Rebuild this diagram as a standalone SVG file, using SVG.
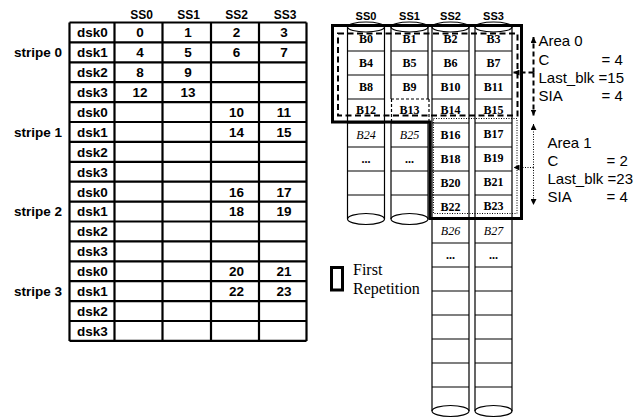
<svg xmlns="http://www.w3.org/2000/svg" width="639" height="419" viewBox="0 0 639 419">
<style>
.bg{fill:#fff}
.tl{stroke:#000;stroke-width:2.2;fill:none}
.th{font-family:"Liberation Sans",Arial,sans-serif;font-weight:bold;font-size:12px;text-anchor:middle;fill:#000}
.tc{font-family:"Liberation Sans",Arial,sans-serif;font-weight:bold;font-size:13.5px;fill:#000}
.num{text-anchor:middle}
.st{text-anchor:end}
.cyl{stroke:#000;stroke-width:1.2;fill:none}
.bl{font-family:"Liberation Serif","Times New Roman",serif;font-weight:bold;font-size:12px;text-anchor:middle;fill:#000}
.it{font-weight:normal;font-style:italic}
.rl{font-family:"Liberation Sans",Arial,sans-serif;font-size:15px;fill:#000}
.lg{font-family:"Liberation Serif","Times New Roman",serif;font-size:16px;fill:#000}
.thick{stroke:#000;stroke-width:3;fill:none}
.dash{stroke:#000;stroke-width:2;fill:none;stroke-dasharray:6 3.5}
.dot{stroke:#000;stroke-width:1;fill:none;stroke-dasharray:1 1.5}
</style>
<defs>
<marker id="ah" viewBox="0 0 10 10" refX="10" refY="5" markerWidth="6" markerHeight="6" markerUnits="userSpaceOnUse" orient="auto"><path d="M0,0 L10,5 L0,10 z" fill="#000"/></marker>
</defs>
<rect class="bg" x="0" y="0" width="639" height="419"/>

<g id="table">
<path class="tl" d="M69.5,22.5V340.9M114.5,22.5V340.9M162.5,22.5V340.9M211,22.5V340.9M259,22.5V340.9M306.5,22.5V340.9
M69.5,22.5H306.5M69.5,42.4H306.5M69.5,62.3H306.5M69.5,82.2H306.5M69.5,102.1H306.5M69.5,122H306.5M69.5,141.9H306.5M69.5,161.8H306.5M69.5,181.7H306.5M69.5,201.6H306.5M69.5,221.5H306.5M69.5,241.4H306.5M69.5,261.3H306.5M69.5,281.2H306.5M69.5,301.1H306.5M69.5,321H306.5M69.5,340.9H306.5"/>
<text class="th" x="141.5" y="19">SS0</text>
<text class="th" x="188.5" y="19">SS1</text>
<text class="th" x="236.5" y="19">SS2</text>
<text class="th" x="285" y="19">SS3</text>
<text class="tc st" x="62" y="57.2">stripe 0</text>
<text class="tc st" x="62" y="136.8">stripe 1</text>
<text class="tc st" x="62" y="216.4">stripe 2</text>
<text class="tc st" x="62" y="296">stripe 3</text>
<text class="tc" x="77" y="37.3">dsk0</text>
<text class="tc" x="77" y="57.2">dsk1</text>
<text class="tc" x="77" y="77.1">dsk2</text>
<text class="tc" x="77" y="97">dsk3</text>
<text class="tc" x="77" y="116.9">dsk0</text>
<text class="tc" x="77" y="136.8">dsk1</text>
<text class="tc" x="77" y="156.7">dsk2</text>
<text class="tc" x="77" y="176.6">dsk3</text>
<text class="tc" x="77" y="196.5">dsk0</text>
<text class="tc" x="77" y="216.4">dsk1</text>
<text class="tc" x="77" y="236.3">dsk2</text>
<text class="tc" x="77" y="256.2">dsk3</text>
<text class="tc" x="77" y="276.1">dsk0</text>
<text class="tc" x="77" y="296">dsk1</text>
<text class="tc" x="77" y="315.9">dsk2</text>
<text class="tc" x="77" y="335.8">dsk3</text>
<text class="tc num" x="140" y="37.3">0</text>
<text class="tc num" x="188" y="37.3">1</text>
<text class="tc num" x="236.5" y="37.3">2</text>
<text class="tc num" x="284" y="37.3">3</text>
<text class="tc num" x="140" y="57.2">4</text>
<text class="tc num" x="188" y="57.2">5</text>
<text class="tc num" x="236.5" y="57.2">6</text>
<text class="tc num" x="284" y="57.2">7</text>
<text class="tc num" x="140" y="77.1">8</text>
<text class="tc num" x="188" y="77.1">9</text>
<text class="tc num" x="140" y="97">12</text>
<text class="tc num" x="188" y="97">13</text>
<text class="tc num" x="236.5" y="116.9">10</text>
<text class="tc num" x="284" y="116.9">11</text>
<text class="tc num" x="236.5" y="136.8">14</text>
<text class="tc num" x="284" y="136.8">15</text>
<text class="tc num" x="236.5" y="196.5">16</text>
<text class="tc num" x="284" y="196.5">17</text>
<text class="tc num" x="236.5" y="216.4">18</text>
<text class="tc num" x="284" y="216.4">19</text>
<text class="tc num" x="236.5" y="276.1">20</text>
<text class="tc num" x="284" y="276.1">21</text>
<text class="tc num" x="236.5" y="296">22</text>
<text class="tc num" x="284" y="296">23</text>
</g>

<g id="cyl-ss0">
<text class="th" x="366" y="19.5" style="font-size:11px">SS0</text>
<path class="cyl" d="M347.5,27V219M384.5,27V219M347.5,51H384.5M347.5,75H384.5M347.5,99H384.5M347.5,123H384.5M347.5,147H384.5M347.5,171H384.5M347.5,195H384.5"/>
<ellipse class="cyl" cx="366" cy="27" rx="18.5" ry="5"/>
<ellipse class="cyl" cx="366" cy="219" rx="18.5" ry="5.5"/>
<text class="bl" x="366" y="42.5">B0</text>
<text class="bl" x="366" y="66.5">B4</text>
<text class="bl" x="366" y="90.5">B8</text>
<text class="bl" x="366" y="113.5">B12</text>
<text class="bl it" x="366" y="138.5">B24</text>
<text class="bl" x="366" y="163">...</text>
</g>

<g id="cyl-ss1">
<text class="th" x="409.5" y="19.5" style="font-size:11px">SS1</text>
<path class="cyl" d="M391,27V99M428,27V99M391,123V219M428,123V219M391,51H428M391,75H428M391,123H428M391,147H428M391,171H428M391,195H428"/>
<path class="cyl" style="stroke-dasharray:3 2" d="M391,99H429M391.5,99V123M429,99V123"/>
<ellipse class="cyl" cx="409.5" cy="27" rx="18.5" ry="5"/>
<ellipse class="cyl" cx="409.5" cy="219" rx="18.5" ry="5.5"/>
<text class="bl" x="409.5" y="42.5">B1</text>
<text class="bl" x="409.5" y="66.5">B5</text>
<text class="bl" x="409.5" y="90.5">B9</text>
<text class="bl" x="409.5" y="113.5">B13</text>
<text class="bl it" x="409.5" y="138.5">B25</text>
<text class="bl" x="409.5" y="163">...</text>
</g>

<g id="cyl-ss2">
<text class="th" x="450.5" y="19.5" style="font-size:11px">SS2</text>
<path class="cyl" d="M432,27V411M469,27V411M432,51H469M432,75H469M432,99H469M432,123H469M432,147H469M432,171H469M432,195H469M432,219H469M432,243H469M432,267H469M432,291H469M432,315H469M432,339H469M432,363H469M432,387H469"/>
<ellipse class="cyl" cx="450.5" cy="27" rx="18.5" ry="5"/>
<ellipse class="cyl" cx="450.5" cy="411" rx="18.5" ry="5.5"/>
<text class="bl" x="450.5" y="42.5">B2</text>
<text class="bl" x="450.5" y="66.5">B6</text>
<text class="bl" x="450.5" y="90.5">B10</text>
<text class="bl" x="450.5" y="113.5">B14</text>
<text class="bl" x="450.5" y="138.5">B16</text>
<text class="bl" x="450.5" y="162.5">B18</text>
<text class="bl" x="450.5" y="186.5">B20</text>
<text class="bl" x="450.5" y="210.5">B22</text>
<text class="bl it" x="450.5" y="234.5">B26</text>
<text class="bl" x="450.5" y="259">...</text>
</g>

<g id="cyl-ss3">
<text class="th" x="493.5" y="19.5" style="font-size:11px">SS3</text>
<path class="cyl" d="M475,27V411M512,27V411M475,51H512M475,75H512M475,99H512M475,123H512M475,147H512M475,171H512M475,195H512M475,219H512M475,243H512M475,267H512M475,291H512M475,315H512M475,339H512M475,363H512M475,387H512"/>
<ellipse class="cyl" cx="493.5" cy="27" rx="18.5" ry="5"/>
<ellipse class="cyl" cx="493.5" cy="411" rx="18.5" ry="5.5"/>
<text class="bl" x="493.5" y="42.5">B3</text>
<text class="bl" x="493.5" y="66.5">B7</text>
<text class="bl" x="493.5" y="90.5">B11</text>
<text class="bl" x="493.5" y="113.5">B15</text>
<text class="bl" x="493.5" y="137.5">B17</text>
<text class="bl" x="493.5" y="161.5">B19</text>
<text class="bl" x="493.5" y="185.5">B21</text>
<text class="bl" x="493.5" y="209.5">B23</text>
<text class="bl it" x="493.5" y="234.5">B27</text>
<text class="bl" x="493.5" y="259">...</text>
</g>

<g id="first-repetition">
<path class="thick" d="M332.5,25.5H521.5V218.5H430V122H332.5Z"/>
</g>
<g id="area0-box"><rect class="dash" x="338" y="33.5" width="179.5" height="82"/></g>
<g id="area1-box"><rect class="dot" x="433.5" y="118.5" width="83.5" height="95"/></g>

<g id="connectors">
<path class="dash" style="stroke-dasharray:5 3" d="M533.5,72.5V37" marker-end="url(#ah)"/>
<path class="dash" style="stroke-dasharray:5 3" d="M533.5,72.5V115.5" marker-end="url(#ah)"/>
<path class="dash" style="stroke-dasharray:5 3" d="M533.5,72.5H513.5" marker-end="url(#ah)"/>
<path class="dot" d="M533.5,167.5V124" marker-end="url(#ah)"/>
<path class="dot" d="M533.5,167.5V205" marker-end="url(#ah)"/>
<path class="dot" d="M533.5,167.5H513.5" marker-end="url(#ah)"/>
</g>

<g id="area0-label">
<text class="rl" x="538.5" y="46">Area 0</text>
<text class="rl" x="538.5" y="64.5">C</text>
<text class="rl" x="601.5" y="64.5">= 4</text>
<text class="rl" x="538.5" y="83">Last_blk =15</text>
<text class="rl" x="538.5" y="101">SIA</text>
<text class="rl" x="601.5" y="101">= 4</text>
</g>
<g id="area1-label">
<text class="rl" x="547.5" y="148">Area 1</text>
<text class="rl" x="547.5" y="166">C</text>
<text class="rl" x="606.5" y="166">= 2</text>
<text class="rl" x="547.5" y="184">Last_blk =23</text>
<text class="rl" x="547.5" y="202">SIA</text>
<text class="rl" x="606.5" y="202">= 4</text>
</g>

<g id="legend">
<rect class="thick" x="331.5" y="267.5" width="11" height="22.5"/>
<text class="lg" x="353" y="275">First</text>
<text class="lg" x="353" y="294">Repetition</text>
</g>
</svg>
